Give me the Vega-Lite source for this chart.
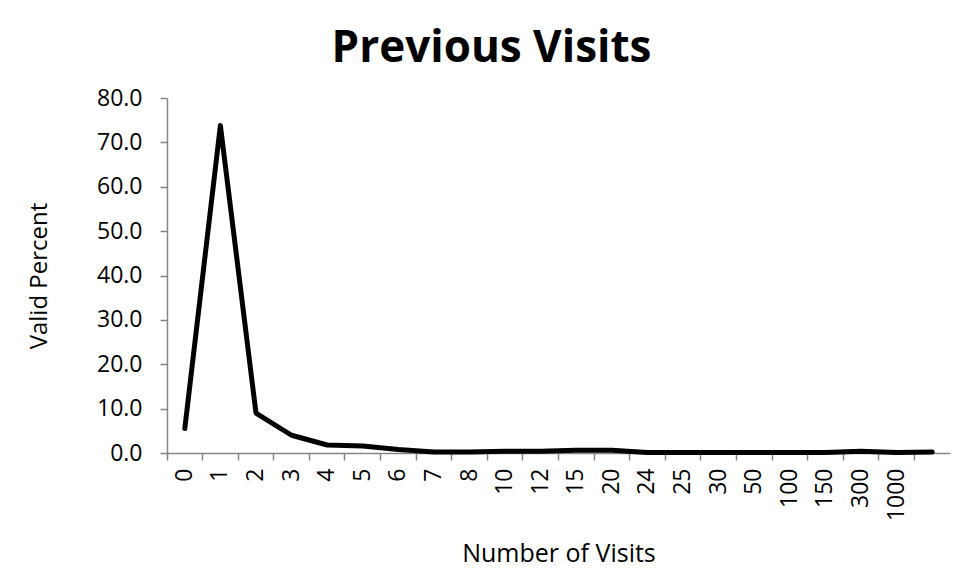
{
  "$schema": "https://vega.github.io/schema/vega-lite/v6.json",
  "width": 783,
  "height": 355,
  "autosize": {"type": "none"},
  "padding": {"left": 167, "top": 98, "right": 16, "bottom": 116},
  "background": "white",
  "title": {
    "text": "Previous Visits",
    "font": "Open Sans",
    "fontSize": 44,
    "fontWeight": "bold",
    "color": "#000000",
    "anchor": "middle",
    "dx": -67,
    "offset": 16
  },
  "data": {
    "values": [
      {"visits": "0", "order": 1, "pct": 5.5},
      {"visits": "1", "order": 2, "pct": 73.8},
      {"visits": "2", "order": 3, "pct": 9.0},
      {"visits": "3", "order": 4, "pct": 4.0},
      {"visits": "4", "order": 5, "pct": 1.8},
      {"visits": "5", "order": 6, "pct": 1.6},
      {"visits": "6", "order": 7, "pct": 0.8},
      {"visits": "7", "order": 8, "pct": 0.2},
      {"visits": "8", "order": 9, "pct": 0.2},
      {"visits": "10", "order": 10, "pct": 0.4},
      {"visits": "12", "order": 11, "pct": 0.4},
      {"visits": "15", "order": 12, "pct": 0.6},
      {"visits": "20", "order": 13, "pct": 0.6},
      {"visits": "24", "order": 14, "pct": 0.1},
      {"visits": "25", "order": 15, "pct": 0.1},
      {"visits": "30", "order": 16, "pct": 0.1},
      {"visits": "50", "order": 17, "pct": 0.1},
      {"visits": "100", "order": 18, "pct": 0.1},
      {"visits": "150", "order": 19, "pct": 0.1},
      {"visits": "300", "order": 20, "pct": 0.4},
      {"visits": "1000", "order": 21, "pct": 0.1},
      {"visits": " ", "order": 22, "pct": 0.2}
    ]
  },
  "mark": {"type": "line", "color": "#000000", "strokeWidth": 5, "strokeJoin": "round", "strokeCap": "round"},
  "encoding": {
    "x": {
      "field": "visits",
      "type": "ordinal",
      "sort": {"field": "order"},
      "bandPosition": 0.5,
      "scale": {"type": "band", "paddingInner": 0, "paddingOuter": 0},
      "axis": {
        "title": "Number of Visits",
        "titleFont": "Open Sans",
        "titleFontSize": 25,
        "titleFontWeight": "normal",
        "titleColor": "#000000",
        "titlePadding": 21,
        "labelFont": "Open Sans",
        "labelFontSize": 23,
        "labelColor": "#000000",
        "labelAngle": -90,
        "labelPadding": 8,
        "bandPosition": 0,
        "tickSize": 7,
        "tickColor": "#868686",
        "domainColor": "#868686",
        "domainWidth": 1.5,
        "tickWidth": 1.5,
        "grid": false
      }
    },
    "y": {
      "field": "pct",
      "type": "quantitative",
      "scale": {"domain": [0, 80]},
      "axis": {
        "title": "Valid Percent",
        "titleFont": "Open Sans",
        "titleFontSize": 24,
        "titleFontWeight": "normal",
        "titleColor": "#000000",
        "titlePadding": 45,
        "labelFont": "Open Sans",
        "labelFontSize": 23,
        "labelColor": "#000000",
        "labelPadding": 18,
        "format": ".1f",
        "values": [0, 10, 20, 30, 40, 50, 60, 70, 80],
        "tickSize": 7,
        "tickColor": "#868686",
        "domainColor": "#868686",
        "domainWidth": 1.5,
        "tickWidth": 1.5,
        "grid": false
      }
    }
  },
  "config": {"view": {"stroke": null}}
}
